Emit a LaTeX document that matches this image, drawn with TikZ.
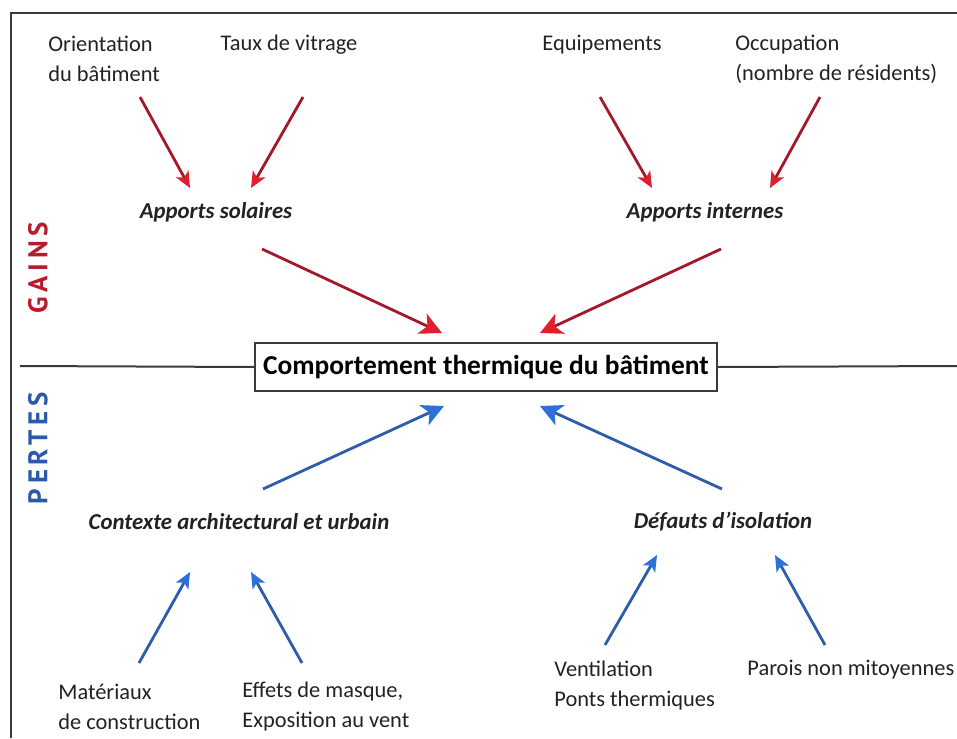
\documentclass[tikz,border=0pt]{standalone}
\usepackage{fontspec}
\setmainfont{Carlito}
\newfontfamily\labelfont{PT Sans}
\usetikzlibrary{arrows.meta}

\definecolor{inkdark}{HTML}{222222}
\definecolor{framegray}{HTML}{3A3A3A}
\definecolor{gainline}{HTML}{A3192C}
\definecolor{gaintip}{HTML}{E01E2C}
\definecolor{lossline}{HTML}{2C5CAA}
\definecolor{losstip}{HTML}{2F70D8}
\definecolor{gaintext}{HTML}{B81C2C}
\definecolor{losstext}{HTML}{2A5AA8}

\tikzset{
  factor/.style={font=\fontsize{11.2}{15}\selectfont, text=inkdark, inner sep=0pt, align=left},
  group/.style={font=\fontsize{11.4}{15}\selectfont\bfseries\itshape, text=inkdark, inner sep=0pt},
  centerbox/.style={draw=framegray, line width=1pt, fill=white, font=\fontsize{13.7}{16}\selectfont\bfseries,
    text=black, inner xsep=4pt, minimum height=24pt},
  sidelabel/.style={font=\labelfont\fontsize{13.5}{14}\selectfont\bfseries\addfontfeatures{LetterSpace=18}, rotate=90, inner sep=0pt},
  gainsmall/.style={draw=gainline, line width=1.4pt, -{Stealth[length=8pt,width=7pt,inset=2pt,color=gaintip]}},
  gainbig/.style={draw=gainline, line width=1.4pt, -{Stealth[length=11pt,width=11pt,inset=3pt,color=gaintip]}},
  losssmall/.style={draw=lossline, line width=1.4pt, -{Stealth[length=8pt,width=7pt,inset=2pt,color=losstip]}},
  lossbig/.style={draw=lossline, line width=1.4pt, -{Stealth[length=11pt,width=11pt,inset=3pt,color=losstip]}}
}

\begin{document}
\begin{tikzpicture}[x=0.5pt, y=-0.5pt]
\useasboundingbox (0,0) rectangle (957,738);

% outer frame (top and left edges)
\draw[framegray, line width=1.1pt] (11,738) -- (11,13) -- (957,13);

% side labels
\node[sidelabel, text=gaintext] (gains) at (38,268) {GAINS};
\node[sidelabel, text=losstext] (pertes) at (38,448) {PERTES};

% central node and dividing line
\node[centerbox] (comp) at (486,367) {Comportement thermique du bâtiment};
\coordinate (divL) at (20,366);
\coordinate (divR) at (957,366);
\draw[framegray, line width=1pt] (divL) -- (comp.west);
\draw[framegray, line width=1pt] (comp.east) -- (divR);

% gain factors
\node[factor, anchor=west] (orient) at (48,59) {Orientation\\du bâtiment};
\node[factor] (vitrage) at (289,45) {Taux de vitrage};
\node[factor] (equip) at (602,45) {Equipements};
\node[factor, anchor=west] (occup) at (735,59) {Occupation\\(nombre de résidents)};

\node[group] (solaires) at (216,212) {Apports solaires};
\node[group] (internes) at (705,212) {Apports internes};

% loss factors
\node[group] (contexte) at (239,522) {Contexte architectural et urbain};
\node[group] (defauts) at (723,522) {Défauts d'isolation};

\node[factor, anchor=west] (materiaux) at (58,707) {Matériaux\\de construction};
\node[factor, anchor=west] (masque) at (242,707) {Effets de masque,\\Exposition au vent};
\node[factor, anchor=west] (ventil) at (554,686) {Ventilation\\Ponts thermiques};
\node[factor, anchor=west] (parois) at (747,670) {Parois non mitoyennes};

% arrow end points
\coordinate (a1s) at (140,97);  \coordinate (a1e) at (190,188);
\coordinate (a2s) at (303,97);  \coordinate (a2e) at (251,188);
\coordinate (a3s) at (600,97);  \coordinate (a3e) at (652,188);
\coordinate (a4s) at (820,97);  \coordinate (a4e) at (770,188);
\coordinate (a5s) at (262,249); \coordinate (a5e) at (442,333);
\coordinate (a6s) at (721,249); \coordinate (a6e) at (540,333);

\coordinate (b1s) at (263,489); \coordinate (b1e) at (444,406);
\coordinate (b2s) at (722,489); \coordinate (b2e) at (540,406);
\coordinate (b3s) at (139,663); \coordinate (b3e) at (190,572);
\coordinate (b4s) at (302,663); \coordinate (b4e) at (251,572);
\coordinate (b5s) at (605,645); \coordinate (b5e) at (657,555);
\coordinate (b6s) at (825,645); \coordinate (b6e) at (775,555);

% gains
\draw[gainsmall] (a1s) -- (a1e);
\draw[gainsmall] (a2s) -- (a2e);
\draw[gainsmall] (a3s) -- (a3e);
\draw[gainsmall] (a4s) -- (a4e);
\draw[gainbig] (a5s) -- (a5e);
\draw[gainbig] (a6s) -- (a6e);

% losses
\draw[lossbig] (b1s) -- (b1e);
\draw[lossbig] (b2s) -- (b2e);
\draw[losssmall] (b3s) -- (b3e);
\draw[losssmall] (b4s) -- (b4e);
\draw[losssmall] (b5s) -- (b5e);
\draw[losssmall] (b6s) -- (b6e);
\end{tikzpicture}
\end{document}
